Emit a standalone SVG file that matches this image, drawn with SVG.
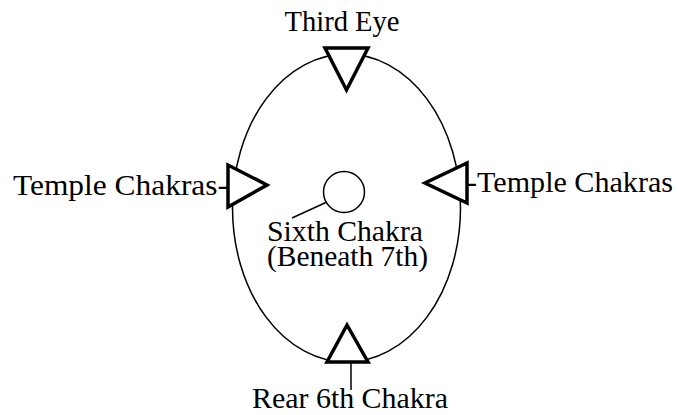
<svg xmlns="http://www.w3.org/2000/svg" width="678" height="415" viewBox="0 0 678 415">
<style>
text{font-family:"Liberation Serif","Times New Roman",serif;font-size:30px;fill:#000}
.tri{fill:#fff;stroke:#000;stroke-width:3.5;stroke-linejoin:miter}
.thin{fill:none;stroke:#000;stroke-width:1.5}
</style>
<rect width="678" height="415" fill="#fff"/>
<g id="head">
<ellipse class="thin" cx="346.5" cy="208" rx="114" ry="154"/>
</g>
<g id="connectors">
<line class="thin" x1="327" y1="202" x2="292" y2="218"/>
<line class="thin" x1="351" y1="362" x2="351" y2="390"/>
</g>
<g id="third-eye">
<polygon class="tri" points="325,48 368,48 346.5,90"/>
<text x="342" y="31" text-anchor="middle" textLength="115" lengthAdjust="spacingAndGlyphs">Third Eye</text>
</g>
<g id="temple-left">
<polygon class="tri" points="228,165 228,207 267,185"/>
<text x="13" y="195" textLength="215" lengthAdjust="spacingAndGlyphs">Temple Chakras-</text>
</g>
<g id="temple-right">
<polygon class="tri" points="467,163 467,203 425,183"/>
<text x="467" y="192" textLength="206" lengthAdjust="spacingAndGlyphs">-Temple Chakras</text>
</g>
<g id="sixth-chakra">
<circle class="thin" cx="344" cy="192" r="20.5"/>
<text x="267" y="241" textLength="156" lengthAdjust="spacingAndGlyphs">Sixth Chakra</text>
<text x="267" y="266" textLength="161" lengthAdjust="spacingAndGlyphs">(Beneath 7th)</text>
</g>
<g id="rear">
<polygon class="tri" points="327,362 368,362 347,325"/>
<text x="252" y="408" textLength="196" lengthAdjust="spacingAndGlyphs">Rear 6th Chakra</text>
</g>
</svg>
